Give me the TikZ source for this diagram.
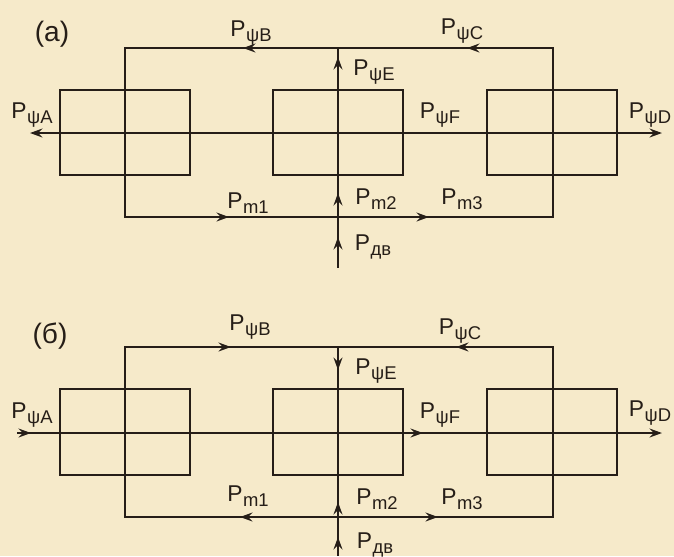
\documentclass[tikz,border=0pt]{standalone}
\usepackage{fontspec}
\setmainfont{Liberation Sans}
\usetikzlibrary{arrows.meta}
\definecolor{paper}{RGB}{246,234,202}
\definecolor{ink}{RGB}{38,30,24}
\newcommand{\pl}[1]{P\kern0.3pt\raisebox{-0.45ex}{\fontsize{10.5}{10.5}\selectfont #1}}
\tikzset{
  lbl/.style={font=\fontsize{13}{15}\selectfont,text=ink,inner sep=1pt},
  tag/.style={font=\fontsize{16}{18}\selectfont,text=ink,inner sep=1pt},
  wire/.style={draw=ink,line width=1.4pt},
  flow/.style={draw=ink,line width=1.4pt,-{Stealth[length=7pt,width=5pt]}},
}
\begin{document}
\begin{tikzpicture}[x=0.02cm,y=-0.02cm]
\fill[paper] (0,0) rectangle (674,556);
\useasboundingbox (0,0) rectangle (674,556);

% (a)
\draw[wire] (125,48) rectangle (553,217);
\draw[wire] (60,90) rectangle (190,175);
\draw[wire] (273,90) rectangle (403,175);
\draw[wire] (487,90) rectangle (617,175);
\draw[wire,{Stealth[length=7pt,width=5pt]}-{Stealth[length=7pt,width=5pt]}] (30,133) -- (662,133);
\draw[wire] (338,48) -- (338,268);
\draw[flow] (252,48) -- (243,48);
\draw[flow] (476,48) -- (467,48);
\draw[flow] (220,217) -- (229,217);
\draw[flow] (420,217) -- (429,217);
\draw[flow] (338,66) -- (338,57);
\draw[flow] (338,202) -- (338,193);
\draw[flow] (338,246) -- (338,237);

\node[tag] (ta) at (52,34) {(а)};
\node[lbl] (aA) at (32,115) {\pl{ψA}};
\node[lbl] (aB) at (251,33) {\pl{ψB}};
\node[lbl] (aC) at (462,31) {\pl{ψC}};
\node[lbl] (aD) at (650,115) {\pl{ψD}};
\node[lbl] (aE) at (374,72) {\pl{ψE}};
\node[lbl] (aF) at (440,115) {\pl{ψF}};
\node[lbl] (am1) at (248,203) {\pl{m1}};
\node[lbl] (am2) at (376,199) {\pl{m2}};
\node[lbl] (am3) at (462,199) {\pl{m3}};
\node[lbl] (adv) at (373,247) {\pl{дв}};

% (b)
\draw[wire] (125,347) rectangle (553,517);
\draw[wire] (60,389) rectangle (190,475);
\draw[wire] (273,389) rectangle (403,475);
\draw[wire] (487,389) rectangle (617,475);
\draw[wire,-{Stealth[length=7pt,width=5pt]}] (17,433) -- (662,433);
\draw[flow] (22,433) -- (31,433);
\draw[wire] (338,347) -- (338,556);
\draw[flow] (222,347) -- (231,347);
\draw[flow] (465,347) -- (456,347);
\draw[flow] (414,433) -- (423,433);
\draw[flow] (249,517) -- (240,517);
\draw[flow] (429,517) -- (438,517);
\draw[flow] (338,361) -- (338,370);
\draw[flow] (338,511) -- (338,502);
\draw[flow] (338,546) -- (338,537);

\node[tag] (tb) at (50,336) {(б)};
\node[lbl] (bA) at (32,415) {\pl{ψA}};
\node[lbl] (bB) at (250,327) {\pl{ψB}};
\node[lbl] (bC) at (460,331) {\pl{ψC}};
\node[lbl] (bD) at (650,413) {\pl{ψD}};
\node[lbl] (bE) at (376,371) {\pl{ψE}};
\node[lbl] (bF) at (440,415) {\pl{ψF}};
\node[lbl] (bm1) at (248,496) {\pl{m1}};
\node[lbl] (bm2) at (377,499) {\pl{m2}};
\node[lbl] (bm3) at (462,499) {\pl{m3}};
\node[lbl] (bdv) at (375,545) {\pl{дв}};
\end{tikzpicture}
\end{document}
